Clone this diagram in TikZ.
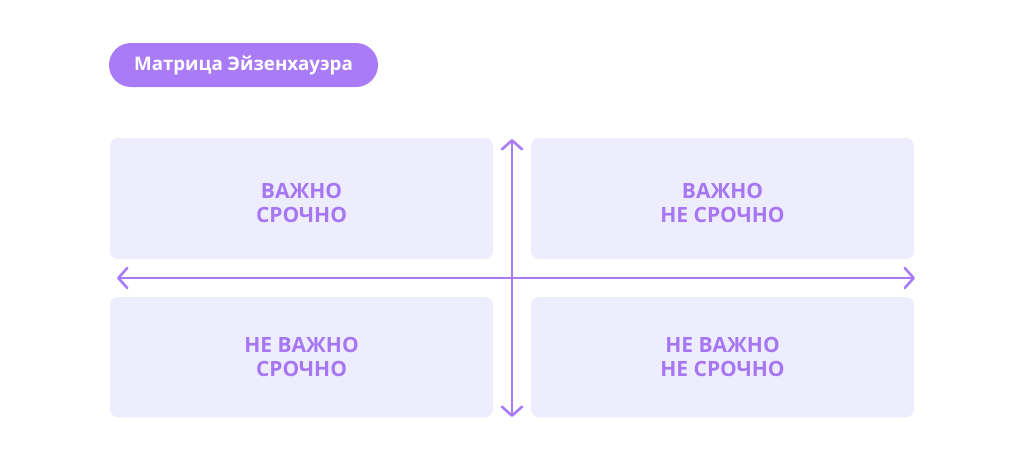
\documentclass[tikz,border=0pt]{standalone}
\usepackage{fontspec}
\setmainfont{Open Sans}
\usetikzlibrary{arrows.meta}
\definecolor{pill}{HTML}{A97BF6}
\definecolor{boxfill}{HTML}{EDEDFD}
\definecolor{txt}{HTML}{A676F3}
\definecolor{axis}{HTML}{A97BF6}
\tikzset{
  quad/.style={fill=boxfill, rounded corners=8pt, draw=none},
  qlabel/.style={text=txt, font=\fontsize{21}{23.5}\selectfont\bfseries, align=center},
  axisline/.style={draw=axis, line width=2.6pt, line cap=round,
    {Straight Barb[length=9pt,width=20pt,line width=2.6pt,round]}-{Straight Barb[length=9pt,width=20pt,line width=2.6pt,round]}},
}
\begin{document}
\begin{tikzpicture}[x=1pt,y=-1pt]
\useasboundingbox (0,0) rectangle (1024,461);
\fill[white] (0,0) rectangle (1024,461);
% title pill
\node[fill=pill, rounded corners=22pt, minimum width=269pt, minimum height=44pt,
  text=white, font=\fontsize{18.7}{20}\selectfont\bfseries, inner sep=0pt] (title) at (243.5,65) {Матрица Эйзенхауэра};
% quadrants
\filldraw[quad] (110,138) rectangle (493,259);
\filldraw[quad] (531,138) rectangle (914,259);
\filldraw[quad] (110,297) rectangle (493,417);
\filldraw[quad] (531,297) rectangle (914,417);
\node[qlabel] (q1) at (301.5,203) {ВАЖНО\\СРОЧНО};
\node[qlabel] (q2) at (722.5,203) {ВАЖНО\\НЕ СРОЧНО};
\node[qlabel] (q3) at (301.5,357) {НЕ ВАЖНО\\СРОЧНО};
\node[qlabel] (q4) at (722.5,357) {НЕ ВАЖНО\\НЕ СРОЧНО};
% axes
\coordinate (vt) at (512,139);
\coordinate (vb) at (512,417);
\coordinate (hl) at (117,278);
\coordinate (hr) at (915,278);
\draw[axisline] (vb) -- (vt);
\draw[axisline] (hl) -- (hr);
\end{tikzpicture}
\end{document}
